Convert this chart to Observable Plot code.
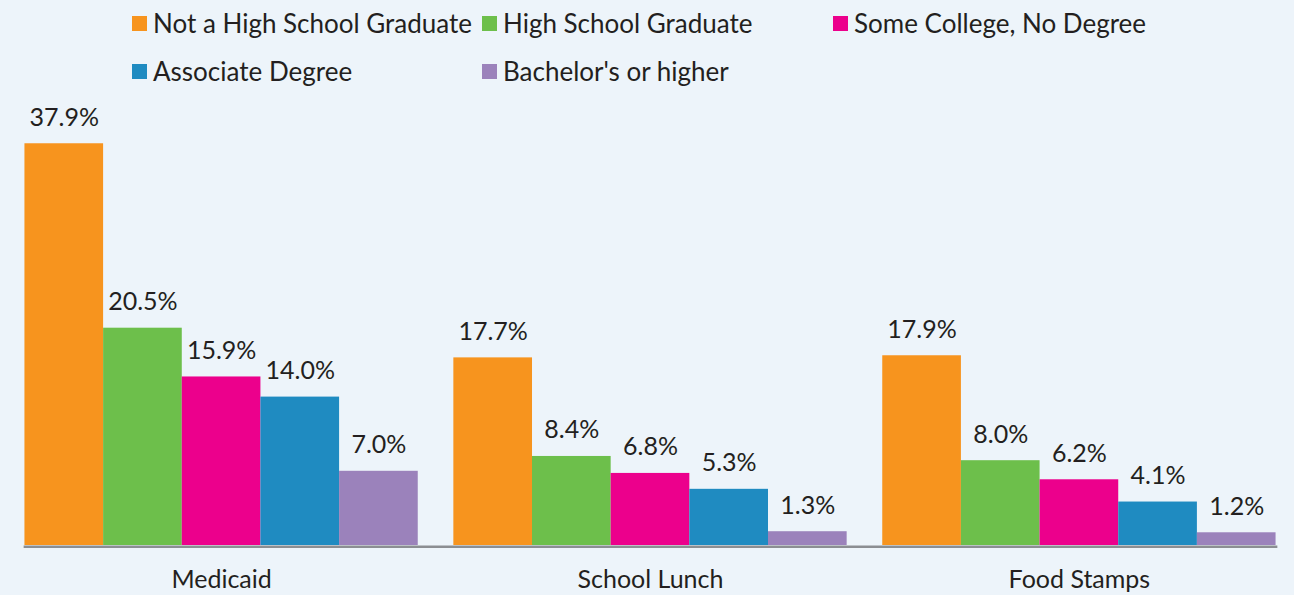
<!DOCTYPE html>
<html>
<head>
<meta charset="utf-8">
<script src="https://cdn.jsdelivr.net/npm/d3@7"></script>
<script src="https://cdn.jsdelivr.net/npm/@observablehq/plot@0.6"></script>
<style>
  html, body { margin: 0; padding: 0; background: #edf4fa; }
  body { width: 1294px; height: 595px; overflow: hidden; font-family: Lato, "Open Sans", sans-serif; color: #231f20; }
  #legend { position: relative; height: 96px; display: grid; grid-template-columns: 350px 351px 350px; grid-auto-rows: 48px; padding-left: 132px; box-sizing: border-box; }
  .item { display: flex; align-items: center; font-size: 26px; white-space: nowrap; margin-top: -2px; }
  .sw { width: 15px; height: 15px; margin-right: 6px; flex: none; }
  svg { display: block; }
</style>
</head>
<body>
<div id="legend"></div>
<div id="chart"></div>
<script>
const categories = ["Medicaid", "School Lunch", "Food Stamps"];
const series = ["Not a High School Graduate", "High School Graduate", "Some College, No Degree", "Associate Degree", "Bachelor's or higher"];
const medicaid = [37.9, 20.5, 15.9, 14.0, 7.0];
const schoolLunch = [17.7, 8.4, 6.8, 5.3, 1.3];
const foodStamps = [17.9, 8.0, 6.2, 4.1, 1.2];
const colors = ["#f7941e", "#6dbf4b", "#ec008c", "#1f8bc1", "#9b82bb"];

const valuesByCategory = [medicaid, schoolLunch, foodStamps];
const data = categories.flatMap((c, i) => valuesByCategory[i].map((v, j) => ({category: c, series: series[j], value: v})));

const legend = document.getElementById("legend");
series.forEach((s, i) => {
  const item = document.createElement("div");
  item.className = "item";
  const sw = document.createElement("span");
  sw.className = "sw";
  sw.style.background = colors[i];
  item.appendChild(sw);
  item.appendChild(document.createTextNode(s));
  legend.appendChild(item);
});

const chart = Plot.plot({
  width: 1294,
  height: 499,
  marginTop: 25,
  marginBottom: 50,
  marginLeft: 6,
  marginRight: 0,
  style: {background: "transparent", fontFamily: "Lato, 'Open Sans', sans-serif", fontSize: "25px", color: "#231f20"},
  fx: {domain: categories, paddingInner: 0.083, paddingOuter: 0.043, round: false, label: null, axis: "bottom", tickSize: 0, tickPadding: 25},
  x: {domain: series, axis: null, padding: 0, round: false},
  y: {domain: [0, 40], axis: null},
  color: {domain: series, range: colors},
  marks: [
    Plot.barY(data, {fx: "category", x: "series", y: "value", fill: "series"}),
    Plot.text(data, {fx: "category", x: "series", y: "value", text: d => d.value.toFixed(1) + "%", dy: -26, fontSize: 25, fill: "#231f20"}),
    Plot.frame({anchor: "bottom", facet: "super", stroke: "#8b8e92", strokeWidth: 2.6, dy: 1.3})
  ]
});
document.getElementById("chart").appendChild(chart);
</script>
</body>
</html>
